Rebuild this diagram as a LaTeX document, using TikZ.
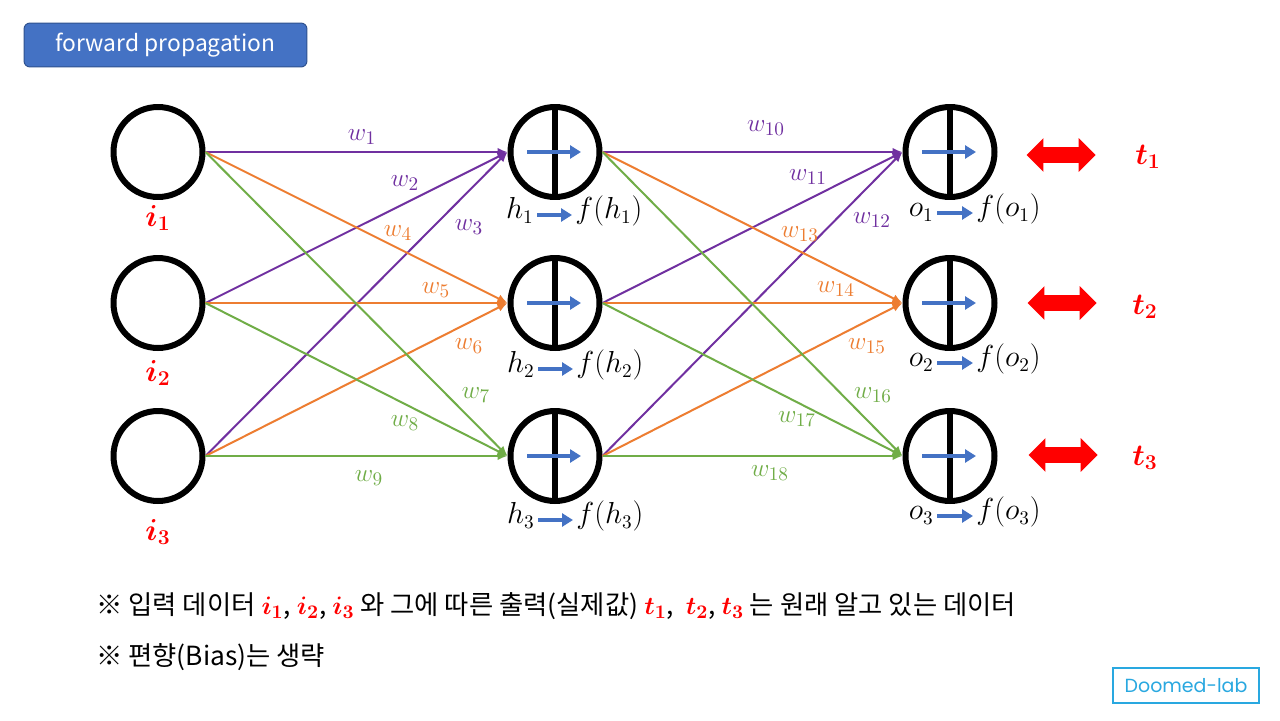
\documentclass[tikz,border=0pt]{standalone}
\usepackage{amsmath}
\usepackage{fontspec}
\newfontfamily\krfont{Noto Sans CJK KR}
\newfontfamily\labfont{Poppins}
\usepackage{tikz}
\usetikzlibrary{arrows.meta,shapes.geometric,shapes.arrows}

\definecolor{wpurple}{HTML}{7030A0}
\definecolor{worange}{HTML}{ED7D31}
\definecolor{wgreen}{HTML}{70AD47}
\definecolor{fblue}{HTML}{4472C4}
\definecolor{fborder}{HTML}{2F528F}
\definecolor{labblue}{HTML}{29A8E0}

\newcommand{\redvar}[1]{\textcolor{red}{$\boldsymbol{#1}$}}

\tikzset{
  unit/.style={draw, ellipse, line width=0.12cm, minimum width=1.78cm, minimum height=1.8cm, inner sep=0pt},
  actarrow/.style={fblue, line width=0.08cm, -{Triangle[length=0.22cm,width=0.26cm]}},
  neuron/.style={unit, path picture={
      \draw[line width=0.11cm] (path picture bounding box.north) -- (path picture bounding box.south);
      \draw[actarrow] ([xshift=-0.56cm]path picture bounding box.center) -- ([xshift=0.52cm]path picture bounding box.center);}},
  wire/.style={line width=0.04cm, -{Latex[length=0.2cm,width=0.17cm]}},
  wlabel/.style={font=\fontsize{15}{17}\selectfont, inner sep=1pt},
  fxlabel/.style={font=\fontsize{16}{18}\selectfont, inner sep=0.06cm},
  varlabel/.style={font=\fontsize{18}{20}\selectfont, text=red},
  target/.style={double arrow, fill=red, draw=none, inner xsep=0pt, inner ysep=0.15cm, minimum height=1.38cm, minimum width=0.66cm, double arrow head extend=0.18cm},
  note/.style={anchor=west, font=\krfont\fontsize{15}{17}\selectfont},
  titlebox/.style={fill=fblue, draw=fborder, line width=0.02cm, rounded corners=0.12cm, minimum width=5.66cm, minimum height=0.88cm, text=white, font=\krfont\fontsize{13}{15}\selectfont}
}

\begin{document}
\begin{tikzpicture}[x=0.02cm, y=-0.02cm]
  \fill[white] (0,0) rectangle (1280,720);
  \useasboundingbox (0,0) rectangle (1280,720);

  % Title
  \node[titlebox] (title) at (165.5,45) {forward propagation};

  % Input layer
  \node[unit] (i1) at (158,152) {};
  \node[unit] (i2) at (158,303) {};
  \node[unit] (i3) at (158,456) {};
  \node[varlabel] (i1l) at (158,218) {$\boldsymbol{i_1}$};
  \node[varlabel] (i2l) at (158,373) {$\boldsymbol{i_2}$};
  \node[varlabel] (i3l) at (158,532) {$\boldsymbol{i_3}$};

  % Hidden layer
  \node[neuron] (h1) at (555,152) {};
  \node[neuron] (h2) at (555,303) {};
  \node[neuron] (h3) at (555,456) {};

  % Output layer
  \node[neuron] (o1) at (950,152) {};
  \node[neuron] (o2) at (950,303) {};
  \node[neuron] (o3) at (950,456) {};

  % Input to hidden weights
  \draw[wire, wpurple] (i1.east) -- (h1.west);
  \draw[wire, wpurple] (i2.east) -- (h1.west);
  \draw[wire, wpurple] (i3.east) -- (h1.west);
  \draw[wire, worange] (i1.east) -- (h2.west);
  \draw[wire, worange] (i2.east) -- (h2.west);
  \draw[wire, worange] (i3.east) -- (h2.west);
  \draw[wire, wgreen] (i1.east) -- (h3.west);
  \draw[wire, wgreen] (i2.east) -- (h3.west);
  \draw[wire, wgreen] (i3.east) -- (h3.west);

  % Hidden to output weights
  \draw[wire, wpurple] (h1.east) -- (o1.west);
  \draw[wire, wpurple] (h2.east) -- (o1.west);
  \draw[wire, wpurple] (h3.east) -- (o1.west);
  \draw[wire, worange] (h1.east) -- (o2.west);
  \draw[wire, worange] (h2.east) -- (o2.west);
  \draw[wire, worange] (h3.east) -- (o2.west);
  \draw[wire, wgreen] (h1.east) -- (o3.west);
  \draw[wire, wgreen] (h2.east) -- (o3.west);
  \draw[wire, wgreen] (h3.east) -- (o3.west);

  % Weight labels
  \node[wlabel, text=wpurple] (w1) at (362,137) {$w_{1}$};
  \node[wlabel, text=wpurple] (w2) at (405,183) {$w_{2}$};
  \node[wlabel, text=wpurple] (w3) at (469,227) {$w_{3}$};
  \node[wlabel, text=worange] (w4) at (398,233) {$w_{4}$};
  \node[wlabel, text=worange] (w5) at (436,290) {$w_{5}$};
  \node[wlabel, text=worange] (w6) at (469,346) {$w_{6}$};
  \node[wlabel, text=wgreen] (w7) at (476,395) {$w_{7}$};
  \node[wlabel, text=wgreen] (w8) at (405,423) {$w_{8}$};
  \node[wlabel, text=wgreen] (w9) at (369,478) {$w_{9}$};
  \node[wlabel, text=wpurple] (w10) at (766,128) {$w_{10}$};
  \node[wlabel, text=wpurple] (w11) at (808,177) {$w_{11}$};
  \node[wlabel, text=wpurple] (w12) at (872,220) {$w_{12}$};
  \node[wlabel, text=worange] (w13) at (800,234) {$w_{13}$};
  \node[wlabel, text=worange] (w14) at (836,289) {$w_{14}$};
  \node[wlabel, text=worange] (w15) at (867,346) {$w_{15}$};
  \node[wlabel, text=wgreen] (w16) at (873,395) {$w_{16}$};
  \node[wlabel, text=wgreen] (w17) at (797,419) {$w_{17}$};
  \node[wlabel, text=wgreen] (w18) at (770,473) {$w_{18}$};

  % Activation labels
  \node[fxlabel, anchor=mid east] (h1a) at (537,215) {$h_1$};
  \node[fxlabel, anchor=mid west] (h1b) at (572,215) {$f(h_1)$};
  \draw[actarrow] (h1a.mid east) -- (h1b.mid west);
  \node[fxlabel, anchor=mid east] (h2a) at (538,369) {$h_2$};
  \node[fxlabel, anchor=mid west] (h2b) at (573,369) {$f(h_2)$};
  \draw[actarrow] (h2a.mid east) -- (h2b.mid west);
  \node[fxlabel, anchor=mid east] (h3a) at (538,520) {$h_3$};
  \node[fxlabel, anchor=mid west] (h3b) at (573,520) {$f(h_3)$};
  \draw[actarrow] (h3a.mid east) -- (h3b.mid west);

  \node[fxlabel, anchor=mid east] (o1a) at (937,213) {$o_1$};
  \node[fxlabel, anchor=mid west] (o1b) at (973,213) {$f(o_1)$};
  \draw[actarrow] (o1a.mid east) -- (o1b.mid west);
  \node[fxlabel, anchor=mid east] (o2a) at (937,363) {$o_2$};
  \node[fxlabel, anchor=mid west] (o2b) at (973,363) {$f(o_2)$};
  \draw[actarrow] (o2a.mid east) -- (o2b.mid west);
  \node[fxlabel, anchor=mid east] (o3a) at (937,516) {$o_3$};
  \node[fxlabel, anchor=mid west] (o3b) at (973,516) {$f(o_3)$};
  \draw[actarrow] (o3a.mid east) -- (o3b.mid west);

  % Targets
  \node[target] (d1) at (1061,155) {};
  \node[target] (d2) at (1062,303) {};
  \node[target] (d3) at (1063,455) {};
  \node[varlabel] (t1) at (1148,157) {$\boldsymbol{t_1}$};
  \node[varlabel] (t2) at (1145,307) {$\boldsymbol{t_2}$};
  \node[varlabel] (t3) at (1145,458) {$\boldsymbol{t_3}$};

  % Notes
  \node[note] (note1) at (90,606) {※ 입력 데이터 \redvar{i_1}, \redvar{i_2}, \redvar{i_3} 와 그에 따른 출력(실제값) \redvar{t_1}, \ \redvar{t_2}, \redvar{t_3} 는 원래 알고 있는 데이터};
  \node[note] (note2) at (90,657) {※ 편향(Bias)는 생략};

  % Watermark
  \node[draw=labblue, line width=0.04cm, minimum width=2.92cm, minimum height=0.7cm, text=labblue, font=\labfont\fontsize{10.8}{12}\selectfont] (lab) at (1186,685.5) {Doomed-lab};
\end{tikzpicture}
\end{document}
